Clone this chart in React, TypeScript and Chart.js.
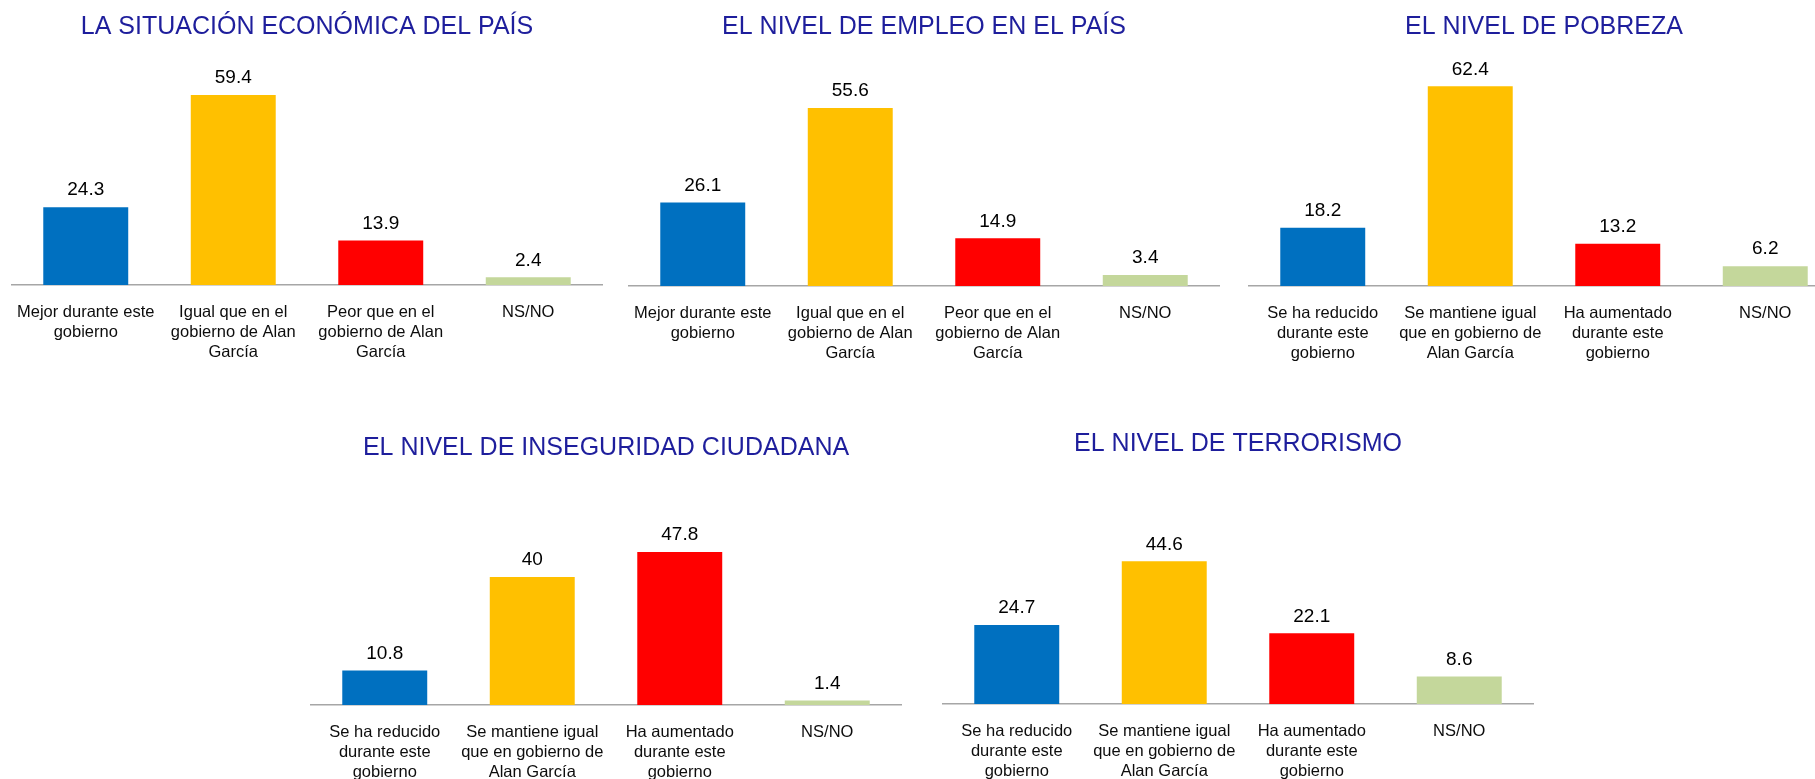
import React, { useEffect, useRef } from "react";
import { Chart, registerables } from "chart.js";

Chart.register(...registerables);

// ---------- data ----------
const titleEconomia = "LA SITUACIÓN ECONÓMICA DEL PAÍS";
const titleEmpleo = "EL NIVEL DE EMPLEO EN EL PAÍS";
const titlePobreza = "EL NIVEL DE POBREZA";
const titleInseguridad = "EL NIVEL DE INSEGURIDAD CIUDADANA";
const titleTerrorismo = "EL NIVEL DE TERRORISMO";

const labelsComparacion = [
  ["Mejor durante este", "gobierno"],
  ["Igual que en el", "gobierno de Alan", "García"],
  ["Peor que en el", "gobierno de Alan", "García"],
  ["NS/NO"],
];
const labelsNivel = [
  ["Se ha reducido", "durante este", "gobierno"],
  ["Se mantiene igual", "que en gobierno de", "Alan García"],
  ["Ha aumentado", "durante este", "gobierno"],
  ["NS/NO"],
];

const economia = [24.3, 59.4, 13.9, 2.4];
const empleo = [26.1, 55.6, 14.9, 3.4];
const pobreza = [18.2, 62.4, 13.2, 6.2];
const inseguridad = [10.8, 40, 47.8, 1.4];
const terrorismo = [24.7, 44.6, 22.1, 8.6];

const barColors = ["#0070C0", "#FFC000", "#FF0000", "#C4D79B"];

// ---------- layout / style ----------
const FONT = "'Liberation Sans', Arial, Helvetica, sans-serif";
const TITLE_COLOR = "#1E1E9C";
const PX_PER_UNIT = 3.2;
const AXIS_W = 590;
const SIDE_PAD = 40;
const AXIS_H = 85;
const TITLE_LH = 30;

type Panel = {
  title: string;
  labels: string[][];
  values: number[];
  axisX: number; // left of plot area (page px)
  top: number; // canvas top (page px)
  titleY: number; // title centre, local
  areaTop: number; // chart area top, local
  baseY: number; // baseline, local
};

const panels: Panel[] = [
  { title: titleEconomia, labels: labelsComparacion, values: economia, axisX: 12, top: 0, titleY: 27, areaTop: 60, baseY: 285 },
  { title: titleEmpleo, labels: labelsComparacion, values: empleo, axisX: 629, top: 0, titleY: 27, areaTop: 60, baseY: 286 },
  { title: titlePobreza, labels: labelsNivel, values: pobreza, axisX: 1249, top: 0, titleY: 27, areaTop: 60, baseY: 286 },
  { title: titleInseguridad, labels: labelsNivel, values: inseguridad, axisX: 311, top: 400, titleY: 48, areaTop: 100, baseY: 305 },
  { title: titleTerrorismo, labels: labelsNivel, values: terrorismo, axisX: 943, top: 400, titleY: 44, areaTop: 100, baseY: 304 },
];

const valueLabels = {
  id: "valueLabels",
  afterDatasetsDraw(chart: any) {
    const ctx = chart.ctx;
    const meta = chart.getDatasetMeta(0);
    const data = chart.data.datasets[0].data;
    ctx.save();
    ctx.font = `19px ${FONT}`;
    ctx.fillStyle = "#000000";
    ctx.textAlign = "center";
    ctx.textBaseline = "middle";
    meta.data.forEach((bar: any, i: number) => {
      ctx.fillText(String(data[i]), bar.x, bar.y - 17);
    });
    ctx.restore();
  },
};

function BarPanel({ p }: { p: Panel }) {
  const ref = useRef<HTMLCanvasElement | null>(null);
  const width = AXIS_W + SIDE_PAD * 2;
  const height = p.baseY + AXIS_H;

  useEffect(() => {
    if (!ref.current) return;
    const titlePadTop = p.titleY - TITLE_LH / 2;
    const titlePadBottom = p.areaTop - titlePadTop - TITLE_LH;
    const yMax = (p.baseY - p.areaTop) / PX_PER_UNIT;
    const chart = new Chart(ref.current, {
      type: "bar",
      data: {
        labels: p.labels,
        datasets: [
          {
            data: p.values,
            backgroundColor: barColors,
            borderWidth: 0,
            barPercentage: 0.576,
            categoryPercentage: 1,
          },
        ],
      },
      options: {
        responsive: false,
        animation: false,
        events: [],
        layout: { padding: { left: SIDE_PAD, right: SIDE_PAD, top: 0, bottom: 0 } },
        plugins: {
          legend: { display: false },
          tooltip: { enabled: false },
          title: {
            display: true,
            text: p.title,
            color: TITLE_COLOR,
            font: { family: FONT, size: 25, weight: "normal", lineHeight: `${TITLE_LH}px` },
            padding: { top: titlePadTop, bottom: titlePadBottom },
          },
        },
        scales: {
          y: { display: false, min: 0, max: yMax },
          x: {
            grid: { display: false, drawTicks: false },
            border: { display: true, color: "#A6A6A6", width: 1.5 },
            ticks: {
              color: "#0d0d0d",
              font: { family: FONT, size: 16.5, lineHeight: "20px" },
              padding: 17.5,
              maxRotation: 0,
              minRotation: 0,
              autoSkip: false,
            },
            afterFit: (scale: any) => {
              scale.height = AXIS_H;
            },
          },
        },
      },
      plugins: [valueLabels],
    });
    return () => chart.destroy();
  }, [p]);

  return (
    <canvas
      ref={ref}
      width={width}
      height={height}
      style={{
        position: "absolute",
        left: p.axisX - SIDE_PAD,
        top: p.top,
        width,
        height,
      }}
    />
  );
}

export default function App() {
  return (
    <div
      style={{
        position: "fixed",
        left: 0,
        top: 0,
        width: 1815,
        height: 779,
        overflow: "hidden",
        background: "#ffffff",
      }}
    >
      {panels.map((p, i) => (
        <BarPanel key={i} p={p} />
      ))}
    </div>
  );
}
